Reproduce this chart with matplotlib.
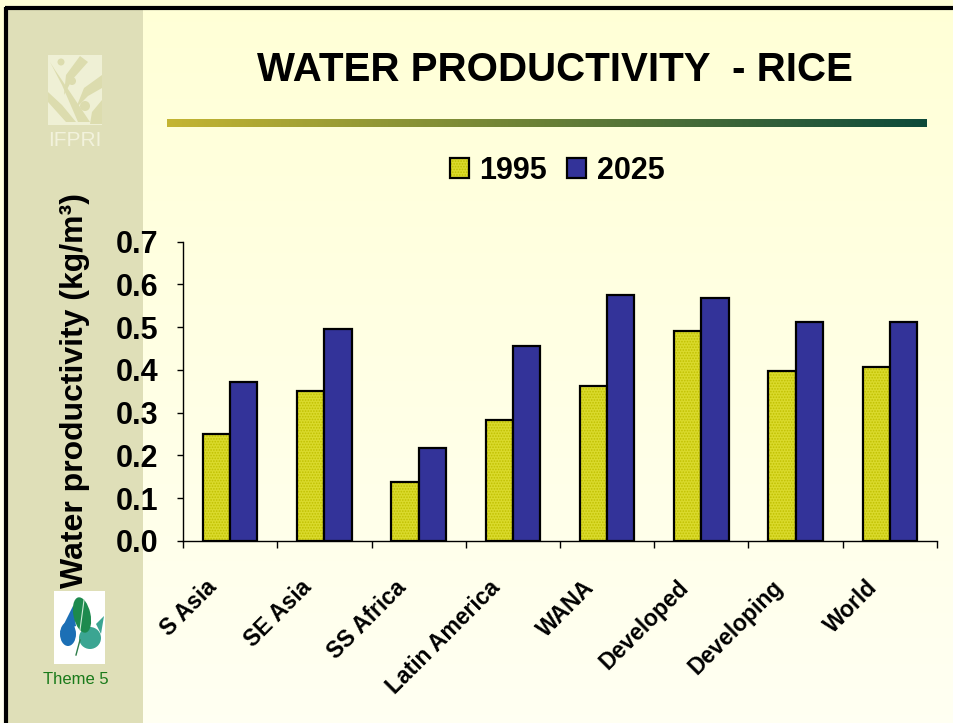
import numpy as np
import matplotlib
matplotlib.use("Agg")
import matplotlib.pyplot as plt
from matplotlib.patches import Rectangle, Ellipse, Polygon, Circle
from matplotlib.transforms import ScaledTranslation
from matplotlib.legend_handler import HandlerTuple

# ---------------- data ----------------
categories = ["S Asia", "SE Asia", "SS Africa", "Latin America", "WANA",
              "Developed", "Developing", "World"]
wp_1995 = [0.25, 0.35, 0.138, 0.283, 0.363, 0.49, 0.397, 0.406]
wp_2025 = [0.372, 0.495, 0.217, 0.457, 0.575, 0.569, 0.513, 0.513]
series_labels = ["1995", "2025"]
yticks = [0.0, 0.1, 0.2, 0.3, 0.4, 0.5, 0.6, 0.7]

FONT = "Liberation Sans"
plt.rcParams["font.family"] = [FONT, "DejaVu Sans"]
plt.rcParams["hatch.linewidth"] = 0.8

W, H = 954, 723
fig = plt.figure(figsize=(W / 100, H / 100), dpi=100)


def fx(x):
    return x / W


def fy(y):
    return 1 - y / H


# ---------------- slide background ----------------
bg = fig.add_axes([0, 0, 1, 1], zorder=-10)
bg.set_xlim(0, W)
bg.set_ylim(H, 0)
bg.axis("off")
grad = np.linspace(0, 1, 256).reshape(-1, 1)
top_c = np.array([1.0, 1.0, 0.84])
bot_c = np.array([1.0, 1.0, 0.95])
img = top_c[None, None, :] * (1 - grad[:, :, None]) + bot_c[None, None, :] * grad[:, :, None]
bg.imshow(img, extent=(0, W, H, 0), aspect="auto", zorder=0)
# left band
bg.add_patch(Rectangle((7, 8), 136, H, facecolor="#DFDFB8", edgecolor="none", zorder=1))
# black frame (top and left)
bg.plot([6, 6], [7, H], color="black", lw=3, zorder=5, solid_capstyle="butt")
bg.plot([5, W], [8, 8], color="black", lw=3, zorder=5, solid_capstyle="butt")

# IFPRI logo (faint)
bg.add_patch(Rectangle((48, 55), 54, 70, facecolor="#EFF0D5", edgecolor="none", zorder=2))
leaf_c = "#DCDCAE"
bg.add_patch(Polygon([[50, 62], [62, 85], [78, 122], [90, 122], [70, 92], [55, 70]],
                     closed=True, facecolor=leaf_c, edgecolor="none", zorder=3))
bg.add_patch(Polygon([[80, 56], [66, 75], [64, 95], [72, 80], [88, 62]],
                     closed=True, facecolor=leaf_c, edgecolor="none", zorder=3))
bg.add_patch(Polygon([[102, 75], [84, 88], [76, 108], [88, 96], [102, 88]],
                     closed=True, facecolor=leaf_c, edgecolor="none", zorder=3))
bg.add_patch(Polygon([[48, 92], [62, 105], [76, 122], [66, 122], [48, 102]],
                     closed=True, facecolor=leaf_c, edgecolor="none", zorder=3))
bg.add_patch(Polygon([[102, 100], [92, 112], [90, 124], [102, 124]],
                     closed=True, facecolor=leaf_c, edgecolor="none", zorder=3))
for cx, cy, r in [(61, 62, 3.5), (72, 81, 4), (85, 106, 5)]:
    bg.add_patch(Circle((cx, cy), r, facecolor=leaf_c, edgecolor="none", zorder=4))
bg.text(75, 140, "IFPRI", ha="center", va="center", fontsize=15, color="#F2F2DC",
        family=FONT, zorder=4)

# Theme 5 logo
bg.add_patch(Rectangle((54, 591), 51, 73, facecolor="white", edgecolor="none", zorder=2))
bg.add_patch(Ellipse((68, 634), 16, 24, facecolor="#1C6FB5", edgecolor="none", zorder=3))
bg.add_patch(Polygon([[60, 632], [73, 606], [76, 626]], closed=True,
                     facecolor="#1C6FB5", edgecolor="none", zorder=3))
bg.add_patch(Ellipse((90, 638), 22, 22, facecolor="#3BA592", edgecolor="none", zorder=3))
bg.add_patch(Polygon([[96, 624], [104, 616], [101, 634]], closed=True,
                     facecolor="#3BA592", edgecolor="none", zorder=3))
bg.add_patch(Ellipse((82, 615), 17, 36, angle=-12, facecolor="#1D8A4E",
                     edgecolor="none", zorder=4))
bg.plot([80, 84], [630, 600], color="#CFEBD8", lw=0.8, zorder=5)
bg.plot([76, 80], [655, 640], color="#2E7D4A", lw=1.0, zorder=5)
bg.text(76, 680, "Theme 5", ha="center", va="center", fontsize=12, color="#1A7A1A",
        family=FONT, zorder=4)

# title + gradient rule
bg.text(555, 70, "WATER PRODUCTIVITY  - RICE", ha="center", va="center",
        fontsize=29, fontweight="bold", color="black", family=FONT, zorder=4)
rule = np.linspace(0, 1, 512).reshape(1, -1)
c0 = np.array([0.77, 0.71, 0.20])
c1 = np.array([0.05, 0.29, 0.23])
rimg = c0[None, None, :] * (1 - rule[:, :, None]) + c1[None, None, :] * rule[:, :, None]
bg.imshow(rimg, extent=(167, 927, 127, 119), aspect="auto", zorder=3)

# ---------------- chart ----------------
ax = fig.add_axes([fx(183), fy(541), fx(937) - fx(183), fy(241.7) - fy(541)])
ax.set_facecolor("none")
x = np.arange(len(categories))
bw = 0.29
c1995 = "#DADA2C"
c1995_dot = "#C0C000"
c2025 = "#333399"
# textured fill for 1995 + black outline on top
b1 = ax.bar(x - bw / 2, wp_1995, bw, color=c1995, edgecolor=c1995_dot, linewidth=0,
            hatch="......", zorder=3)
b1o = ax.bar(x - bw / 2, wp_1995, bw, fill=False, edgecolor="black", linewidth=1.6,
             zorder=4)
b2 = ax.bar(x + bw / 2, wp_2025, bw, color=c2025, edgecolor="black", linewidth=1.6,
            zorder=4)

ax.set_xlim(-0.5, len(categories) - 0.5)
ax.set_ylim(0, 0.7)
ax.set_yticks(yticks)
ax.set_yticklabels([f"{v:.1f}" for v in yticks])
for s in ["top", "right"]:
    ax.spines[s].set_visible(False)
for s in ["left", "bottom"]:
    ax.spines[s].set_color("black")
    ax.spines[s].set_linewidth(1.0)
ax.tick_params(axis="y", direction="out", length=4, width=1, pad=14,
               labelsize=22)
for lab in ax.get_yticklabels():
    lab.set_fontweight("bold")
    lab.set_family(FONT)

ax.set_xticks(x)
ax.set_xticklabels(categories, rotation=45, ha="right", va="top",
                   fontsize=16.5, fontweight="bold", family=FONT)
ax.set_xticks(np.arange(len(categories) + 1) - 0.5, minor=True)
ax.tick_params(axis="x", which="major", length=0, pad=4)
ax.tick_params(axis="x", which="minor", direction="out", length=5, width=1)
off = ScaledTranslation(-6 / 72, -21 / 72, fig.dpi_scale_trans)
for lab in ax.get_xticklabels():
    lab.set_transform(lab.get_transform() + off)

fig.text(fx(75), fy(390), "Water productivity (kg/m\u00b3)", rotation=90,
         ha="center", va="center", fontsize=23, fontweight="bold", family=FONT)

leg = fig.legend(handles=[(b1[0], b1o[0]), b2[0]], labels=series_labels, loc="center",
                 bbox_to_anchor=(fx(557), fy(171)), ncol=2, frameon=False,
                 handler_map={tuple: HandlerTuple(ndivide=1, pad=0)},
                 prop={"family": FONT, "weight": "bold", "size": 22},
                 handlelength=0.62, handleheight=0.62, handletextpad=0.35,
                 columnspacing=0.65, borderpad=0)

fig.savefig("out.png", dpi=100)
